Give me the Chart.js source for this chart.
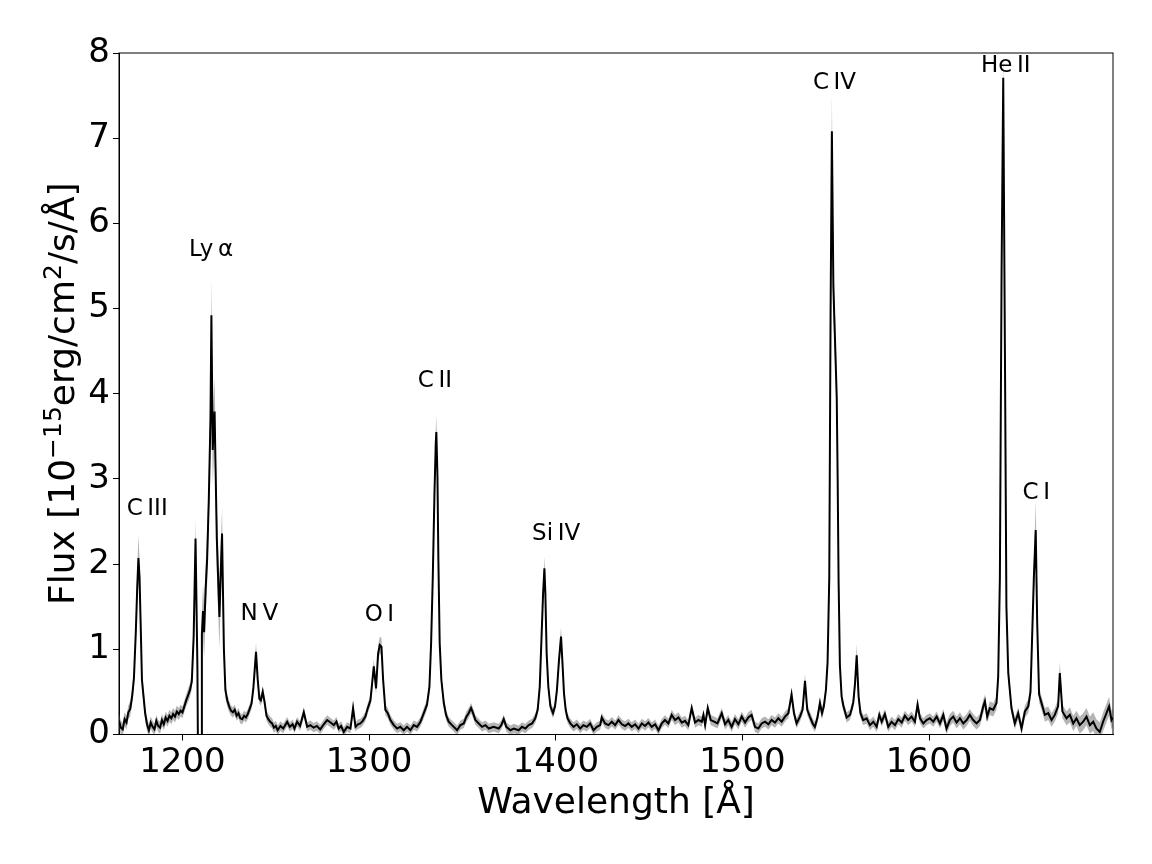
<!DOCTYPE html>
<html>
<head>
<meta charset="utf-8">
<script src="https://cdn.jsdelivr.net/npm/chart.js@4.4.0/dist/chart.umd.min.js"></script>
<style>
  html, body { margin: 0; padding: 0; background: #fff; }
  #wrap { width: 1152px; height: 864px; }
</style>
</head>
<body>
<div id="wrap"><canvas id="spectrum" width="1152" height="864"></canvas></div>
<script>
// spectrum, one line per group of ten points
var wavelength = [
  1166.0, 1167.0, 1168.0, 1169.0, 1170.0, 1171.0, 1172.0, 1173.0, 1174.0, 1175.0,
  1175.8, 1176.4, 1177.0, 1177.6, 1178.3, 1179.0, 1180.0, 1181.0, 1182.0, 1183.0,
  1184.0, 1185.0, 1186.0, 1187.0, 1188.0, 1189.0, 1190.0, 1191.0, 1192.0, 1193.0,
  1194.0, 1195.0, 1196.0, 1197.0, 1198.0, 1199.0, 1200.0, 1201.0, 1202.0, 1203.0,
  1204.0, 1205.0, 1206.0, 1207.0, 1208.0, 1208.4, 1210.1, 1210.4, 1211.0, 1211.6,
  1212.4, 1213.2, 1214.1, 1215.0, 1215.5, 1216.2, 1217.2, 1218.4, 1219.8, 1220.5,
  1221.2, 1222.2, 1223.0, 1224.0, 1225.0, 1226.0, 1227.0, 1228.0, 1229.0, 1230.0,
  1231.0, 1232.0, 1233.0, 1234.0, 1235.0, 1236.0, 1237.0, 1238.0, 1239.4, 1240.3,
  1241.2, 1242.0, 1243.0, 1244.0, 1245.0, 1246.0, 1247.0, 1248.0, 1249.0, 1250.0,
  1251.0, 1252.5, 1254.0, 1256.1, 1257.5, 1259.0, 1260.0, 1261.4, 1263.0, 1265.0,
  1266.8, 1268.5, 1270.3, 1272.0, 1273.8, 1275.7, 1277.5, 1279.3, 1281.1, 1282.5,
  1283.7, 1285.0, 1286.4, 1288.2, 1290.0, 1291.4, 1292.7, 1294.0, 1295.3, 1296.6,
  1298.0, 1299.3, 1300.7, 1301.6, 1302.5, 1303.7, 1304.8, 1305.7, 1306.6, 1307.5,
  1308.7, 1310.0, 1311.4, 1313.2, 1315.0, 1316.7, 1318.5, 1320.3, 1322.1, 1323.9,
  1325.7, 1327.5, 1329.3, 1331.0, 1332.3, 1333.2, 1334.1, 1335.0, 1335.7, 1336.0,
  1336.6, 1337.1, 1337.8, 1338.7, 1340.0, 1341.2, 1342.6, 1344.4, 1346.2, 1347.1,
  1348.9, 1350.7, 1352.1, 1353.3, 1354.6, 1355.7, 1356.9, 1358.7, 1360.5, 1362.3,
  1364.1, 1366.7, 1369.4, 1370.8, 1372.1, 1373.5, 1375.7, 1377.5, 1380.1, 1381.9,
  1383.7, 1385.5, 1387.3, 1389.0, 1390.3, 1391.4, 1392.3, 1393.2, 1393.9, 1394.4,
  1395.1, 1396.0, 1397.1, 1398.5, 1399.6, 1400.6, 1401.7, 1402.8, 1403.5, 1404.4,
  1405.3, 1406.3, 1407.8, 1409.5, 1411.3, 1413.1, 1414.8, 1416.6, 1418.4, 1420.2,
  1422.0, 1423.8, 1424.6, 1426.4, 1428.2, 1430.0, 1431.8, 1433.6, 1435.4, 1437.1,
  1438.9, 1440.7, 1442.5, 1444.3, 1446.1, 1447.8, 1449.6, 1451.4, 1453.2, 1455.0,
  1456.8, 1458.5, 1460.3, 1462.1, 1463.9, 1465.7, 1467.5, 1469.2, 1471.0, 1472.8,
  1474.6, 1476.4, 1478.2, 1479.1, 1480.0, 1481.4, 1483.0, 1484.8, 1486.6, 1488.9,
  1490.7, 1492.4, 1494.2, 1496.0, 1497.8, 1499.6, 1501.4, 1503.1, 1504.9, 1506.7,
  1508.5, 1510.3, 1512.1, 1513.9, 1515.6, 1517.4, 1519.2, 1521.0, 1522.8, 1524.6,
  1526.3, 1527.6, 1529.0, 1530.8, 1532.2, 1533.5, 1534.7, 1536.1, 1537.6, 1538.8,
  1540.1, 1541.5, 1542.6, 1543.6, 1544.7, 1545.6, 1546.5, 1547.2, 1547.9, 1548.7,
  1550.5, 1551.0, 1551.5, 1552.2, 1553.1, 1554.0, 1555.8, 1557.6, 1558.5, 1559.4,
  1560.3, 1561.2, 1562.2, 1563.2, 1564.7, 1566.5, 1568.3, 1570.1, 1571.9, 1573.3,
  1574.6, 1576.3, 1578.1, 1579.9, 1581.7, 1583.5, 1585.3, 1587.0, 1588.8, 1590.6,
  1592.4, 1593.8, 1595.1, 1596.9, 1598.6, 1600.4, 1602.2, 1604.0, 1605.8, 1607.6,
  1609.3, 1611.1, 1612.9, 1614.7, 1616.5, 1618.3, 1620.1, 1621.8, 1623.6, 1625.4,
  1627.2, 1629.0, 1629.9, 1631.1, 1632.5, 1634.3, 1636.1, 1637.0, 1637.9, 1638.8,
  1639.7, 1640.6, 1641.4, 1642.4, 1644.1, 1645.9, 1647.7, 1649.5, 1651.3, 1653.1,
  1654.3, 1654.8, 1656.1, 1657.1, 1657.9, 1658.9, 1660.2, 1662.0, 1663.8, 1665.6,
  1667.3, 1669.1, 1670.0, 1671.4, 1673.6, 1675.4, 1677.2, 1678.9, 1680.7, 1682.5,
  1684.3, 1686.1, 1687.9, 1689.6, 1691.4, 1693.2, 1695.0, 1696.4, 1697.7, 1698.4
];

var flux = [
  0.16, 0.08, 0.06, 0.18, 0.14, 0.26, 0.30, 0.44, 0.66, 1.20,
  1.75, 2.07, 1.85, 1.30, 0.64, 0.48, 0.25, 0.12, 0.05, 0.14,
  0.09, 0.06, 0.16, 0.10, 0.08, 0.17, 0.12, 0.20, 0.16, 0.22,
  0.19, 0.24, 0.21, 0.27, 0.24, 0.28, 0.26, 0.33, 0.40, 0.46,
  0.52, 0.62, 1.15, 2.30, 0.80, -0.50, -0.50, 1.18, 1.45, 1.20,
  1.70, 2.05, 2.75, 3.70, 4.92, 3.34, 3.79, 2.30, 1.38, 1.90,
  2.36, 1.00, 0.52, 0.40, 0.33, 0.28, 0.26, 0.29, 0.22, 0.25,
  0.19, 0.18, 0.22, 0.20, 0.24, 0.30, 0.36, 0.55, 0.97, 0.65,
  0.42, 0.40, 0.50, 0.38, 0.22, 0.18, 0.15, 0.13, 0.08, 0.10,
  0.05, 0.10, 0.07, 0.15, 0.09, 0.12, 0.07, 0.15, 0.10, 0.26,
  0.09, 0.11, 0.08, 0.10, 0.06, 0.12, 0.17, 0.14, 0.11, 0.15,
  0.07, 0.10, 0.03, 0.09, 0.07, 0.31, 0.09, 0.12, 0.13, 0.16,
  0.21, 0.31, 0.40, 0.60, 0.80, 0.54, 0.95, 1.05, 1.03, 0.64,
  0.29, 0.25, 0.17, 0.11, 0.07, 0.09, 0.05, 0.09, 0.05, 0.11,
  0.09, 0.15, 0.25, 0.35, 0.56, 1.07, 1.85, 2.83, 3.42, 3.55,
  3.03, 2.05, 1.07, 0.64, 0.37, 0.23, 0.15, 0.11, 0.07, 0.05,
  0.11, 0.13, 0.21, 0.25, 0.31, 0.25, 0.17, 0.13, 0.09, 0.11,
  0.07, 0.09, 0.07, 0.11, 0.18, 0.09, 0.05, 0.07, 0.05, 0.09,
  0.07, 0.11, 0.13, 0.19, 0.29, 0.56, 1.11, 1.66, 1.95, 1.66,
  0.95, 0.56, 0.33, 0.25, 0.33, 0.52, 0.87, 1.15, 0.87, 0.48,
  0.29, 0.19, 0.13, 0.09, 0.12, 0.07, 0.11, 0.09, 0.13, 0.05,
  0.09, 0.11, 0.20, 0.13, 0.11, 0.15, 0.11, 0.17, 0.12, 0.10,
  0.13, 0.09, 0.12, 0.07, 0.13, 0.10, 0.14, 0.09, 0.12, 0.05,
  0.13, 0.17, 0.13, 0.23, 0.17, 0.20, 0.14, 0.16, 0.11, 0.31,
  0.14, 0.17, 0.15, 0.23, 0.11, 0.31, 0.17, 0.15, 0.13, 0.25,
  0.12, 0.17, 0.09, 0.18, 0.12, 0.21, 0.14, 0.20, 0.23, 0.09,
  0.07, 0.13, 0.15, 0.12, 0.17, 0.14, 0.19, 0.15, 0.21, 0.25,
  0.47, 0.25, 0.13, 0.21, 0.29, 0.63, 0.29, 0.21, 0.13, 0.09,
  0.19, 0.37, 0.25, 0.33, 0.52, 0.85, 1.84, 4.93, 7.08, 5.26,
  3.96, 3.00, 1.80, 0.81, 0.45, 0.34, 0.20, 0.23, 0.30, 0.38,
  0.60, 0.93, 0.45, 0.25, 0.17, 0.19, 0.11, 0.15, 0.09, 0.23,
  0.15, 0.24, 0.09, 0.15, 0.11, 0.18, 0.14, 0.22, 0.17, 0.21,
  0.15, 0.35, 0.19, 0.13, 0.17, 0.19, 0.15, 0.21, 0.13, 0.23,
  0.07, 0.17, 0.21, 0.14, 0.19, 0.13, 0.17, 0.23, 0.17, 0.13,
  0.17, 0.33, 0.39, 0.21, 0.31, 0.29, 0.37, 0.68, 1.84, 5.40,
  7.71, 4.50, 1.50, 0.72, 0.31, 0.13, 0.25, 0.07, 0.27, 0.33,
  0.50, 0.86, 1.84, 2.40, 1.30, 0.47, 0.37, 0.23, 0.25, 0.17,
  0.23, 0.33, 0.72, 0.27, 0.19, 0.23, 0.13, 0.19, 0.11, 0.15,
  0.21, 0.11, 0.15, 0.07, 0.03, 0.15, 0.25, 0.33, 0.17, 0.20
];

var fluxErr = [
  0.08, 0.08, 0.08, 0.08, 0.08, 0.08, 0.09, 0.09, 0.11, 0.15,
  0.20, 0.27, 0.22, 0.15, 0.11, 0.09, 0.08, 0.08, 0.07, 0.07,
  0.07, 0.07, 0.07, 0.07, 0.07, 0.07, 0.07, 0.07, 0.07, 0.07,
  0.07, 0.07, 0.07, 0.07, 0.07, 0.07, 0.07, 0.07, 0.07, 0.08,
  0.08, 0.09, 0.13, 0.22, 0.15, 0.10, 0.10, 0.25, 0.30, 0.30,
  0.30, 0.30, 0.30, 0.35, 0.42, 0.40, 0.40, 0.40, 0.38, 0.30,
  0.30, 0.15, 0.09, 0.07, 0.07, 0.06, 0.06, 0.06, 0.06, 0.06,
  0.06, 0.06, 0.06, 0.06, 0.06, 0.06, 0.06, 0.07, 0.11, 0.08,
  0.06, 0.06, 0.07, 0.06, 0.06, 0.06, 0.06, 0.06, 0.06, 0.06,
  0.06, 0.055, 0.055, 0.055, 0.055, 0.055, 0.055, 0.055, 0.055, 0.06,
  0.055, 0.055, 0.055, 0.055, 0.055, 0.055, 0.055, 0.055, 0.055, 0.055,
  0.055, 0.055, 0.055, 0.055, 0.055, 0.06, 0.055, 0.055, 0.055, 0.055,
  0.055, 0.06, 0.06, 0.07, 0.08, 0.07, 0.09, 0.10, 0.10, 0.08,
  0.06, 0.06, 0.055, 0.055, 0.055, 0.055, 0.055, 0.055, 0.055, 0.055,
  0.055, 0.055, 0.06, 0.06, 0.07, 0.09, 0.11, 0.14, 0.18, 0.20,
  0.16, 0.12, 0.09, 0.07, 0.06, 0.06, 0.055, 0.055, 0.055, 0.055,
  0.055, 0.055, 0.06, 0.06, 0.06, 0.06, 0.055, 0.055, 0.055, 0.055,
  0.055, 0.055, 0.055, 0.055, 0.055, 0.055, 0.055, 0.055, 0.055, 0.055,
  0.055, 0.055, 0.055, 0.055, 0.06, 0.07, 0.09, 0.11, 0.14, 0.12,
  0.09, 0.07, 0.06, 0.06, 0.06, 0.07, 0.08, 0.11, 0.09, 0.07,
  0.06, 0.055, 0.055, 0.055, 0.055, 0.055, 0.055, 0.055, 0.055, 0.055,
  0.055, 0.055, 0.055, 0.055, 0.055, 0.055, 0.055, 0.055, 0.055, 0.055,
  0.055, 0.055, 0.055, 0.055, 0.055, 0.055, 0.055, 0.055, 0.055, 0.055,
  0.055, 0.055, 0.055, 0.06, 0.06, 0.06, 0.06, 0.06, 0.06, 0.06,
  0.06, 0.06, 0.06, 0.06, 0.06, 0.06, 0.06, 0.06, 0.06, 0.06,
  0.06, 0.06, 0.06, 0.06, 0.06, 0.06, 0.06, 0.06, 0.06, 0.06,
  0.06, 0.06, 0.06, 0.06, 0.06, 0.06, 0.06, 0.06, 0.06, 0.06,
  0.07, 0.06, 0.06, 0.06, 0.06, 0.08, 0.06, 0.06, 0.06, 0.06,
  0.06, 0.07, 0.07, 0.07, 0.08, 0.10, 0.15, 0.30, 0.43, 0.35,
  0.25, 0.20, 0.12, 0.09, 0.07, 0.06, 0.06, 0.06, 0.06, 0.07,
  0.09, 0.13, 0.08, 0.06, 0.06, 0.06, 0.06, 0.06, 0.06, 0.06,
  0.06, 0.06, 0.06, 0.06, 0.06, 0.06, 0.06, 0.06, 0.06, 0.06,
  0.06, 0.08, 0.06, 0.06, 0.06, 0.06, 0.06, 0.06, 0.06, 0.07,
  0.07, 0.07, 0.07, 0.07, 0.07, 0.07, 0.07, 0.07, 0.07, 0.07,
  0.07, 0.08, 0.08, 0.07, 0.08, 0.08, 0.08, 0.10, 0.15, 0.25,
  0.30, 0.25, 0.12, 0.09, 0.07, 0.07, 0.07, 0.07, 0.07, 0.08,
  0.09, 0.11, 0.20, 0.35, 0.15, 0.09, 0.08, 0.08, 0.08, 0.08,
  0.08, 0.08, 0.13, 0.08, 0.08, 0.09, 0.09, 0.09, 0.10, 0.10,
  0.10, 0.10, 0.11, 0.11, 0.11, 0.11, 0.11, 0.11, 0.11, 0.11
];

var xTicks = [1200, 1300, 1400, 1500, 1600];
var yTicks = [0, 1, 2, 3, 4, 5, 6, 7, 8];

// y axis title pieces, true = superscript
var yTitleParts = ["Flux [10", "\u221215", "erg/cm", "2", "/s/\u00c5]"];
var yTitleSup = [false, true, false, true, false];

// emission line labels, placed in data units
var lineNames = ["C\u2009III", "Ly\u2009\u03b1", "N\u2009V", "O\u2009I", "C\u2009II",
                 "Si\u2009IV", "C\u2009IV", "He\u2009II", "C\u2009I"];
var lineLabelWl = [1181.1, 1215.3, 1241.2, 1305.5, 1335.2, 1400.2, 1549.3, 1641.1, 1657.4];
var lineLabelFlux = [2.65, 5.69, 1.41, 1.40, 4.15, 2.35, 7.65, 7.85, 2.84];

var fontFamily = "'DejaVu Sans', sans-serif";

function toPoints(values) {
  return wavelength.map(function(w, i) {
    return { x: w, y: values[i] };
  });
}

var upperBand = flux.map(function(f, i) { return f + fluxErr[i]; });
var lowerBand = flux.map(function(f, i) { return f - fluxErr[i]; });

var framePlugin = {
  id: "frame",
  afterDraw: function(chart) {
    var a = chart.chartArea;
    var ctx = chart.ctx;
    ctx.save();
    ctx.strokeStyle = "#000";
    ctx.lineWidth = 1;
    ctx.strokeRect(a.left, a.top, a.right - a.left, a.bottom - a.top);
    ctx.restore();
  }
};

// rotated y title with real superscripts
var yTitlePlugin = {
  id: "yTitle",
  afterDraw: function(chart) {
    var ctx = chart.ctx;
    var a = chart.chartArea;
    var big = "36px " + fontFamily;
    var small = "25px " + fontFamily;
    var total = 0;
    var widths = [];
    for (var i = 0; i < yTitleParts.length; i++) {
      ctx.font = yTitleSup[i] ? small : big;
      widths.push(ctx.measureText(yTitleParts[i]).width);
      total += widths[i];
    }
    ctx.save();
    ctx.translate(74, (a.top + a.bottom) / 2);
    ctx.rotate(-Math.PI / 2);
    ctx.fillStyle = "#000";
    ctx.textBaseline = "alphabetic";
    ctx.textAlign = "left";
    var pos = -total / 2;
    for (var j = 0; j < yTitleParts.length; j++) {
      ctx.font = yTitleSup[j] ? small : big;
      ctx.fillText(yTitleParts[j], pos, yTitleSup[j] ? -13 : 0);
      pos += widths[j];
    }
    ctx.restore();
  }
};

var lineLabelPlugin = {
  id: "lineLabels",
  afterDatasetsDraw: function(chart) {
    var ctx = chart.ctx;
    var xs = chart.scales.x;
    var ys = chart.scales.y;
    ctx.save();
    ctx.font = "23px " + fontFamily;
    ctx.fillStyle = "#000";
    ctx.textAlign = "center";
    ctx.textBaseline = "middle";
    for (var i = 0; i < lineNames.length; i++) {
      ctx.fillText(lineNames[i], xs.getPixelForValue(lineLabelWl[i]), ys.getPixelForValue(lineLabelFlux[i]));
    }
    ctx.restore();
  }
};

var ctx = document.getElementById("spectrum").getContext("2d");

new Chart(ctx, {
  type: "line",
  data: {
    datasets: [
      {
        data: toPoints(flux),
        borderColor: "#000",
        borderWidth: 2,
        pointRadius: 0,
        tension: 0,
        fill: false,
        order: 0
      },
      {
        data: toPoints(upperBand),
        borderWidth: 0,
        borderColor: "rgba(0,0,0,0)",
        backgroundColor: "rgba(128,128,128,0.58)",
        pointRadius: 0,
        tension: 0,
        fill: "+1",
        order: 1
      },
      {
        data: toPoints(lowerBand),
        borderWidth: 0,
        borderColor: "rgba(0,0,0,0)",
        pointRadius: 0,
        tension: 0,
        fill: false,
        order: 2
      }
    ]
  },
  options: {
    responsive: false,
    animation: false,
    events: [],
    layout: { padding: { left: 0, right: 39, top: 53, bottom: 0 } },
    plugins: {
      legend: { display: false },
      tooltip: { enabled: false }
    },
    scales: {
      x: {
        type: "linear",
        position: "bottom",
        min: 1166,
        max: 1698.5,
        afterBuildTicks: function(scale) {
          scale.ticks = xTicks.map(function(v) { return { value: v }; });
        },
        afterFit: function(scale) { scale.height = 129.5; },
        ticks: {
          color: "#000",
          font: { family: fontFamily, size: 34 },
          padding: 2,
          maxRotation: 0,
          callback: function(v) { return String(v); }
        },
        grid: {
          drawOnChartArea: false,
          drawTicks: true,
          tickLength: 6,
          tickColor: "#000",
          tickWidth: 1
        },
        border: { display: true, color: "#000", width: 1 },
        title: {
          display: true,
          text: "Wavelength [\u00c5]",
          color: "#000",
          font: { family: fontFamily, size: 36 },
          padding: { top: 0, bottom: 38.9 }
        }
      },
      y: {
        min: 0,
        max: 8,
        afterBuildTicks: function(scale) {
          scale.ticks = yTicks.map(function(v) { return { value: v }; });
        },
        afterFit: function(scale) { scale.width = 119; },
        ticks: {
          color: "#000",
          font: { family: fontFamily, size: 34 },
          padding: 3
        },
        grid: {
          drawOnChartArea: false,
          drawTicks: true,
          tickLength: 6,
          tickColor: "#000",
          tickWidth: 1
        },
        border: { display: true, color: "#000", width: 1 },
        title: { display: false }
      }
    }
  },
  plugins: [framePlugin, yTitlePlugin, lineLabelPlugin]
});
</script>
</body>
</html>
